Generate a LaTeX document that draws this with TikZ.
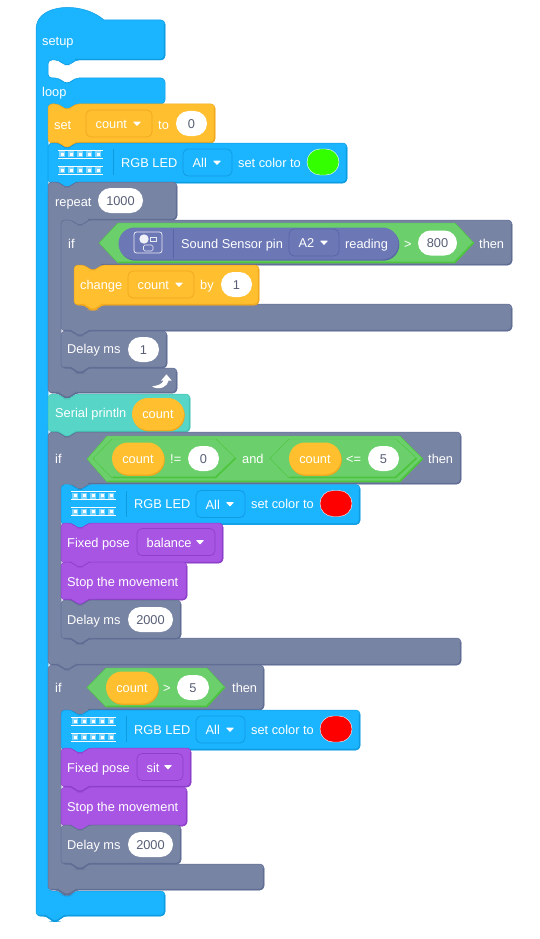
\documentclass[tikz,border=0pt]{standalone}
\usepackage{fontspec}
\setmainfont{Liberation Sans}
\usetikzlibrary{shapes.misc, positioning}
\definecolor{blkblue}{RGB}{26,180,255}
\definecolor{blkbluedark}{RGB}{15,155,224}
\definecolor{blkorange}{RGB}{255,191,46}
\definecolor{blkorangedark}{RGB}{240,168,30}
\definecolor{blkgray}{RGB}{120,132,163}
\definecolor{blkgraydark}{RGB}{96,110,150}
\definecolor{blkpurple}{RGB}{168,85,228}
\definecolor{blkpurpledark}{RGB}{142,63,201}
\definecolor{blkteal}{RGB}{87,213,199}
\definecolor{blktealdark}{RGB}{69,196,182}
\definecolor{blkgreen}{RGB}{107,208,107}
\definecolor{blkgreendark}{RGB}{76,196,60}
\definecolor{blksensor}{RGB}{108,119,182}
\definecolor{blksensordark}{RGB}{88,100,165}
\definecolor{inputtext}{RGB}{87,94,117}
\definecolor{ledcell}{RGB}{125,212,255}
\definecolor{ledgreen}{RGB}{51,255,0}
\tikzset{
  blocklabel/.style={anchor=base west, inner sep=0pt, text=white,
    font=\fontsize{12.8}{14}\selectfont},
  inputpill/.style={rounded rectangle, fill=white, inner sep=0pt, minimum height=25pt,
    text=inputtext, text height=9.2pt, text depth=0pt,
    font=\fontsize{12.8}{14}\selectfont},
  colorpill/.style={rounded rectangle, draw=white, line width=.4pt, inner sep=0pt,
    minimum width=32pt, minimum height=26pt},
  reporterpill/.style={rounded rectangle, fill=blkorange, inner sep=0pt,
    minimum width=52pt, minimum height=32pt, text=white,
    text height=9.2pt, text depth=0pt, font=\fontsize{12.8}{14}\selectfont,
    preaction={fill=blkorangedark, transform canvas={xshift=.8pt, yshift=-1.4pt}}},
  sensorpill/.style={rounded rectangle, fill=blksensor, inner sep=0pt,
    minimum width=280pt, minimum height=32pt,
    preaction={fill=blksensordark, transform canvas={xshift=.8pt, yshift=-1.2pt}}},
  dropbox/.style={rectangle, rounded corners=5pt, inner sep=0pt, minimum height=27pt,
    line width=.7pt}
}
% plain stack block: colour, x0, y0, x1, y1
\newcommand{\plainblock}[5]{%
  \path[fill=#1, draw=#1dark, line width=.5pt, rounded corners=4pt]
    (#2,#3) -- ({#2+11},#3) -- ({#2+16},{#3+5}) -- ({#2+22},{#3+5}) -- ({#2+27},#3)
    -- (#4,#3) -- (#4,#5) -- ({#2+27},#5) -- ({#2+22},{#5+5}) -- ({#2+16},{#5+5})
    -- ({#2+11},#5) -- (#2,#5) -- cycle;
  \draw[#1dark, line width=1.2pt, rounded corners=4pt]
    ({#4-.5},{#3+4}) -- ({#4-.5},{#5-.5}) -- ({#2+27},{#5-.5}) -- ({#2+22},{#5+4.5})
    -- ({#2+16},{#5+4.5}) -- ({#2+11},{#5-.5}) -- ({#2+3},{#5-.5});
}
% C block: colour, x0, y0, x1, y1, y2, y3, xfoot
\newcommand{\cblock}[8]{%
  \path[fill=#1, draw=#1dark, line width=.5pt, rounded corners=4pt]
    (#2,#3) -- ({#2+11},#3) -- ({#2+16},{#3+5}) -- ({#2+22},{#3+5}) -- ({#2+27},#3)
    -- (#4,#3) -- (#4,#5) -- ({#2+40},#5) -- ({#2+35},{#5+5}) -- ({#2+29},{#5+5})
    -- ({#2+24},#5) -- ({#2+13},#5) -- ({#2+13},#6) -- ({#2+24},#6) -- ({#2+29},{#6+5})
    -- ({#2+35},{#6+5}) -- ({#2+40},#6) -- (#8,#6) -- (#8,#7) -- ({#2+27},#7)
    -- ({#2+22},{#7+5}) -- ({#2+16},{#7+5}) -- ({#2+11},#7) -- (#2,#7) -- cycle;
  \draw[#1dark, line width=1.2pt, rounded corners=4pt]
    ({#4-.5},{#3+4}) -- ({#4-.5},{#5-.5}) -- ({#2+40},{#5-.5});
  \draw[#1dark, line width=1.2pt, rounded corners=4pt]
    ({#8-.5},{#6+4}) -- ({#8-.5},{#7-.5}) -- ({#2+27},{#7-.5}) -- ({#2+22},{#7+4.5})
    -- ({#2+16},{#7+4.5}) -- ({#2+11},{#7-.5}) -- ({#2+3},{#7-.5});
}
% dropdown: name, colour, x0, x1, yc, label
\newcommand{\dropdown}[6]{%
  \node[dropbox, fill=#2, draw=#2dark, minimum width={(#4-#3)*1pt}] (#1) at ({(#3+#4)/2},#5) {};
  \node[blocklabel] (#1text) at ({#3+9.5},{#5+5}) {#6};
  \path[fill=white, rounded corners=.6pt] ({#4-19},{#5-1.8}) -- ({#4-11},{#5-1.8}) -- ({#4-15},{#5+2.6}) -- cycle;
}
% boolean hexagon: xl, xa, xb, xr, y0, y1
\newcommand{\boolhex}[6]{%
  \path[fill=blkgreen, draw=blkgreendark, line width=.4pt]
    (#1,{(#5+#6)/2}) -- (#2,#5) -- (#3,#5) -- (#4,{(#5+#6)/2}) -- (#3,#6) -- (#2,#6) -- cycle;
  \draw[blkgreendark, line width=1.4pt]
    ({#4-1},{(#5+#6)/2}) -- ({#3-.5},{#6-.7}) -- ({#2+.5},{#6-.7});
}
% RGB LED block: name, dx, dy, colour
\newcommand{\ledblock}[4]{%
  \begin{scope}[shift={(#2,#3)}]
    \plainblock{blkblue}{48}{143}{347}{183}
    \foreach \rowy in {154,170} {
      \draw[white, line width=.9pt] (58,{\rowy-4}) -- (103,{\rowy-4});
      \draw[white, line width=.9pt] (58,{\rowy+4}) -- (103,{\rowy+4});
      \foreach \colx in {62,71,80,89,98} {
        \fill[ledcell] ({\colx-3},{\rowy-3}) rectangle ({\colx+3},{\rowy+3});
        \fill[white] ({\colx-1.5},{\rowy-1.5}) rectangle ({\colx+1.5},{\rowy+1.5});
      }
    }
    \draw[blkbluedark, line width=1pt] (113,149) -- (113,175);
    \node[blocklabel] (#1text) at (121,167) {RGB LED};
    \dropdown{#1drop}{blkblue}{183}{232}{162.5}{All}
    \node[blocklabel] (#1set) at (238,167) {set color to};
    \node[colorpill, fill=#4] (#1color) at (323,162) {};
  \end{scope}
}
\begin{document}
\begin{tikzpicture}[x=1pt, y=-1pt]
  \useasboundingbox (0,0) rectangle (540,939);

  % hat block with the two mouths
  \path[fill=blkblue, draw=blkbluedark, line width=.5pt, rounded corners=4pt]
    (36,25) [sharp corners] .. controls (46,3) and (85,3) .. (104,20) [rounded corners=4pt]
    -- (165,20) -- (165,60) -- (75,60) -- (70,65) -- (64,65) -- (59,60) -- (48,60)
    -- (48,78) -- (59,78) -- (64,83) -- (70,83) -- (75,78) -- (165,78) -- (165,104)
    -- (75,104) -- (70,109) -- (64,109) -- (59,104) -- (48,104) -- (48,891) -- (59,891)
    -- (64,896) -- (70,896) -- (75,891) -- (165,891) -- (165,916) -- (63,916) -- (58,921.5)
    -- (52,921.5) -- (47,916) -- (36,916) -- cycle;
  \draw[blkbluedark, line width=1.2pt, rounded corners=4pt]
    (164.5,24) -- (164.5,59.5) -- (75,59.5);
  \draw[blkbluedark, line width=1.2pt, rounded corners=4pt]
    (164.5,895) -- (164.5,915.5) -- (63,915.5) -- (58,921) -- (52,921) -- (47,915.5) -- (39,915.5);
  \node[blocklabel] (setuplabel) at (42,46) {setup};
  \node[blocklabel] (looplabel) at (42,97) {loop};

  % set count
  \plainblock{blkorange}{48}{104}{215}{143}
  \node[blocklabel] (settext) at (54,129) {set};
  \dropdown{setdrop}{blkorange}{86}{152}{123.5}{count}
  \node[blocklabel] (settoo) at (158,129) {to};
  \node[inputpill, minimum width=31pt] (setval) at (191.5,123.5) {0};

  \ledblock{ledone}{0}{0}{ledgreen}

  % repeat
  \cblock{blkgray}{48}{182}{177}{220}{368}{393}{177}
  \node[blocklabel] (repeattext) at (55,206) {repeat};
  \node[inputpill, minimum width=45pt] (repeatval) at (120.5,200.5) {1000};
  \path[fill=white] (152,386.5) .. controls (157,385.5) and (162,384.5) .. (163.5,380.7) -- (161,380.7)
    -- (166.5,374.3) -- (171.7,380.7) -- (168.5,380.7) .. controls (168,386) and (160,391) .. (152,386.5) -- cycle;

  % first if
  \cblock{blkgray}{61}{220}{512}{265}{304}{331}{512}
  \node[blocklabel] (ifonetext) at (68,248) {if};
  \boolhex{99}{118}{455}{474}{223}{263}
  \node[sensorpill] (sensor) at (258.5,243.5) {};
  \draw[white!85!blksensor, line width=.8pt, rounded corners=2.5pt] (134,232) rectangle (162,253);
  \fill[white!90!blksensor] (144,239) circle (4.7);
  \draw[white!85!blksensor, line width=.6pt] (150.5,237) rectangle (156,241);
  \draw[white!85!blksensor, line width=.6pt, rounded corners=1.5pt] (143.5,245) rectangle (153,251);
  \draw[blksensordark, line width=1pt] (173,229) -- (173,258);
  \node[blocklabel] (sensortext) at (181,248) {Sound Sensor pin};
  \dropdown{sensordrop}{blksensor}{289}{339}{242.5}{A2}
  \node[blocklabel] (readingtext) at (345,248) {reading};
  \node[blocklabel] (greatertext) at (404,248) {>};
  \node[inputpill, minimum width=39pt] (sensorval) at (437.5,243) {800};
  \node[blocklabel] (ifonethen) at (479,248) {then};

  \plainblock{blkorange}{74}{265}{259}{305}
  \node[blocklabel] (changetext) at (80,289) {change};
  \dropdown{changedrop}{blkorange}{128}{194}{284.5}{count}
  \node[blocklabel] (bytext) at (200,289) {by};
  \node[inputpill, minimum width=31pt] (changeval) at (236.5,284.5) {1};

  \plainblock{blkgray}{61}{331}{167}{368}
  \node[blocklabel] (delayonetext) at (67,353) {Delay ms};
  \node[inputpill, minimum width=31pt] (delayoneval) at (143.5,349.5) {1};

  % serial
  \plainblock{blkteal}{48}{394}{190}{432}
  \node[blocklabel] (serialtext) at (55,417) {Serial println};
  \node[reporterpill] (serialcount) at (158,414) {count};

  % second if
  \cblock{blkgray}{48}{432}{461}{484}{638}{665}{461}
  \node[blocklabel] (iftwotext) at (55,463) {if};
  \boolhex{87}{107}{400}{423}{436}{482}
  \boolhex{93}{112}{216}{236}{439}{478}
  \boolhex{270}{289}{396}{417}{439}{478}
  \node[reporterpill] (countone) at (138,458.5) {count};
  \node[blocklabel] (netext) at (170,463) {!=};
  \node[inputpill, minimum width=31pt] (neval) at (203.5,458.5) {0};
  \node[blocklabel] (andtext) at (242,463) {and};
  \node[reporterpill] (counttwo) at (315,458.5) {count};
  \node[blocklabel] (letext) at (346,463) {<=};
  \node[inputpill, minimum width=31pt] (leval) at (383.5,458.5) {5};
  \node[blocklabel] (iftwothen) at (428,463) {then};

  \ledblock{ledtwo}{13}{341.5}{red}

  \plainblock{blkpurple}{61}{523}{223}{563}
  \node[blocklabel] (posetext) at (67,547) {Fixed pose};
  \dropdown{posedrop}{blkpurple}{137}{215}{542}{balance}

  \plainblock{blkpurple}{61}{562}{187}{600}
  \node[blocklabel] (stoptext) at (67,586) {Stop the movement};

  \plainblock{blkgray}{61}{600}{181}{639}
  \node[blocklabel] (delaytwotext) at (67,624) {Delay ms};
  \node[inputpill, minimum width=45pt] (delaytwoval) at (150.5,619.5) {2000};

  % third if
  \cblock{blkgray}{48}{665}{264}{710}{864}{890}{264}
  \node[blocklabel] (ifthreetext) at (55,692) {if};
  \boolhex{87}{106}{207}{225}{668}{707}
  \node[reporterpill] (countthree) at (132,687.5) {count};
  \node[blocklabel] (gttext) at (163,692) {>};
  \node[inputpill, minimum width=32pt] (gtval) at (193,687.5) {5};
  \node[blocklabel] (ifthreethen) at (232,692) {then};

  \ledblock{ledthree}{13}{567}{red}

  \plainblock{blkpurple}{61}{748}{191}{787}
  \node[blocklabel] (posetwotext) at (67,772) {Fixed pose};
  \dropdown{posetwodrop}{blkpurple}{137}{183}{767}{sit}

  \plainblock{blkpurple}{61}{787}{187}{826}
  \node[blocklabel] (stoptwotext) at (67,811) {Stop the movement};

  \plainblock{blkgray}{61}{825}{181}{864}
  \node[blocklabel] (delaythreetext) at (67,849) {Delay ms};
  \node[inputpill, minimum width=45pt] (delaythreeval) at (150.5,844.5) {2000};
\end{tikzpicture}
\end{document}
